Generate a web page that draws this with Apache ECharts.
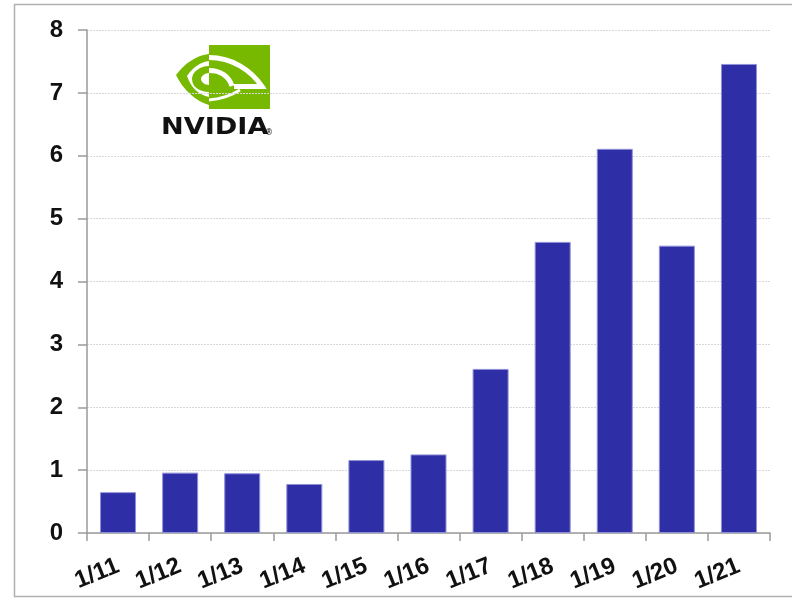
<!DOCTYPE html>
<html>
<head>
<meta charset="utf-8">
<script src="https://cdn.jsdelivr.net/npm/echarts@6/dist/echarts.min.js"></script>
<style>html,body{margin:0;padding:0;background:#fff}#c{width:792px;height:598px}</style>
</head>
<body>
<div id="c"></div>
<script>
const categories = ['1/11','1/12','1/13','1/14','1/15','1/16','1/17','1/18','1/19','1/20','1/21'];
const values = [0.65, 0.96, 0.95, 0.78, 1.16, 1.25, 2.61, 4.63, 6.11, 4.57, 7.46];
const yMin = 0, yMax = 8, yStep = 1;
const logoText = 'NVIDIA';

const green = '#76B900';
// logo eye drawn in a local 100x64 box (origin at 170,45)
const eyeSvg =
  '<svg xmlns="http://www.w3.org/2000/svg" width="100" height="64" viewBox="0 0 100 64">' +
  '<path d="M6,30 C15,18 27,10 39,9 L39,60 C26,56 14,46 6,30 Z" fill="' + green + '"/>' +
  '<path d="M17,31 C23,22 31,17 39,16 L39,52 C29,50 21,43 17,31 Z" fill="#fff"/>' +
  '<path d="M39,21 C30,21 22,27 22,34 C22,42 30,47 39,47 L39,40 C35,40 31,37 31,34 C31,31 35,28 39,28 Z" fill="' + green + '"/>' +
  '<rect x="39" y="0" width="61" height="64" fill="' + green + '"/>' +
  '<path d="M39,12.5 C62,12.5 81,25 92,41.5 L64,41.5" fill="none" stroke="#fff" stroke-width="5" stroke-linejoin="miter"/>' +
  '<path d="M39,25.5 C51,25.5 59,32 62,41" fill="none" stroke="#fff" stroke-width="5"/>' +
  '<path d="M39,55 C52,54 62,50 70,45" fill="none" stroke="#fff" stroke-width="3"/>' +
  '</svg>';
const eyeUrl = 'data:image/svg+xml;charset=utf-8,' + encodeURIComponent(eyeSvg);

const chart = echarts.init(document.getElementById('c'));
chart.setOption({
  animation: false,
  backgroundColor: '#fff',
  grid: { left: 87, right: 22, top: 30, bottom: 65 },
  xAxis: {
    type: 'category',
    data: categories,
    boundaryGap: true,
    axisLine: { lineStyle: { color: '#9a9a9a', width: 1.5 } },
    axisTick: { show: true, length: 8, lineStyle: { color: '#9a9a9a', width: 1.5 } },
    axisLabel: { interval: 0, hideOverlap: false, rotate: 22, margin: 32, color: '#111', fontSize: 24, fontWeight: 'bold', fontFamily: 'Liberation Sans, Arial, sans-serif' },
    splitLine: { show: false }
  },
  yAxis: {
    type: 'value',
    min: yMin, max: yMax, interval: yStep,
    axisLine: { show: true, lineStyle: { color: '#9a9a9a', width: 1.5 } },
    axisTick: { show: true, length: 9, lineStyle: { color: '#9a9a9a', width: 1.5 } },
    axisLabel: { margin: 24, color: '#111', fontSize: 24, fontWeight: 'bold', fontFamily: 'Liberation Sans, Arial, sans-serif' },
    splitLine: { show: true, lineStyle: { color: '#d8d8d8', type: [2, 1], width: 1 } }
  },
  series: [{
    type: 'bar',
    data: values,
    barWidth: 36,
    itemStyle: { color: '#2E2EA6', borderColor: '#9090d8', borderWidth: 1 }
  }],
  graphic: [
    { type: 'rect', silent: true, shape: { x: 14.5, y: 4.5, width: 800, height: 592 }, style: { fill: 'none', stroke: '#b0b0b0', lineWidth: 1.5 } },
    { type: 'image', x: 170, y: 45, style: { image: eyeUrl, width: 100, height: 64 } },
    { type: 'text', x: 161, y: 117, scaleX: 1.18, style: { text: logoText, fill: '#111', fontSize: 23, fontWeight: 'bold', fontFamily: 'DejaVu Sans, sans-serif' } },
    { type: 'text', x: 265, y: 129, style: { text: '®', fill: '#111', fontSize: 8, fontFamily: 'DejaVu Sans, sans-serif' } }
  ]
});
</script>
</body>
</html>
